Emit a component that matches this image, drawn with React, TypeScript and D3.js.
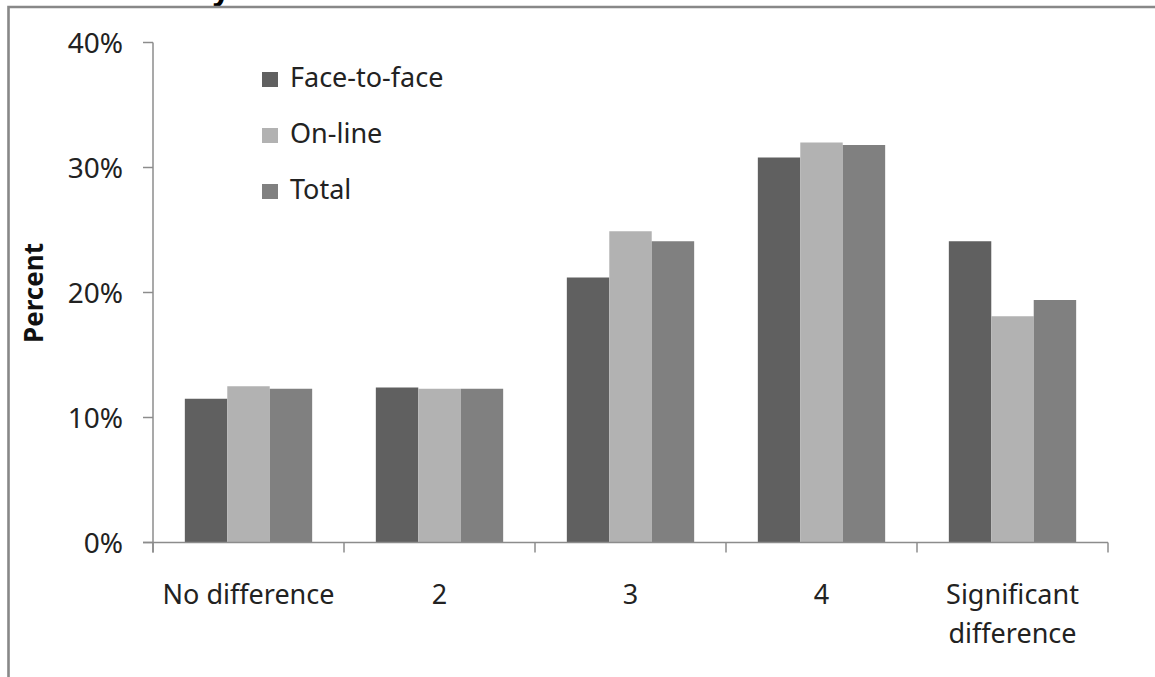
import React, { useEffect, useRef } from "react";
import * as d3 from "d3";

// 카테고리 / 시리즈 값
const categories = ["No difference", "2", "3", "4", "Significant difference"];
const seriesNames = ["Face-to-face", "On-line", "Total"];
const faceToFace = [11.5, 12.4, 21.2, 30.8, 24.1];
const onLine = [12.5, 12.3, 24.9, 32.0, 18.1];
const total = [12.3, 12.3, 24.1, 31.8, 19.4];
const yTicks = [0, 10, 20, 30, 40];
const seriesColors = ["#606060", "#b2b2b2", "#808080"];

const W = 1155;
const H = 677;
const FONT = "'Noto Sans', 'Open Sans', sans-serif";

export default function App() {
	const svgRef = useRef<SVGSVGElement>(null);

	useEffect(() => {
		const svg = d3.select(svgRef.current);
		svg.selectAll("*").remove();

		const left = 153;
		const right = 1108;
		const top = 42.5;
		const bottom = 542.5;
		const axisColor = "#8c8c8c";

		// 바깥 프레임 (잘린 상태)
		svg.append("rect").attr("x", 0).attr("y", 0).attr("width", W).attr("height", H).attr("fill", "white");
		svg
			.append("text")
			.attr("x", 230)
			.attr("y", 0)
			.attr("text-anchor", "end")
			.attr("font-family", FONT)
			.attr("font-weight", "bold")
			.attr("font-size", 30)
			.attr("fill", "#000")
			.text("Moderately");
		svg
			.append("path")
			.attr("d", `M8.5,${H + 10}V7H${W + 10}`)
			.attr("fill", "none")
			.attr("stroke", "#888")
			.attr("stroke-width", 2.6);

		const seriesData = [faceToFace, onLine, total];

		const x0 = d3.scaleBand<string>().domain(categories).range([left, right]).paddingInner(1 / 3).paddingOuter(1 / 6);
		const x1 = d3.scaleBand<number>().domain([0, 1, 2]).range([0, x0.bandwidth()]);
		const y = d3.scaleLinear().domain([0, 40]).range([bottom, top]);

		// 막대
		const groups = svg
			.selectAll(".grp")
			.data(categories)
			.join("g")
			.attr("class", "grp")
			.attr("transform", (d) => `translate(${x0(d)},0)`);

		groups
			.selectAll("rect")
			.data((_, i) => seriesData.map((s, k) => ({ k, v: s[i] })))
			.join("rect")
			.attr("x", (d) => x1(d.k)!)
			.attr("width", x1.bandwidth())
			.attr("y", (d) => y(d.v))
			.attr("height", (d) => bottom - y(d.v))
			.attr("fill", (d) => seriesColors[d.k]);

		// y축
		const yAxis = svg.append("g");
		yAxis
			.append("line")
			.attr("x1", left)
			.attr("x2", left)
			.attr("y1", top)
			.attr("y2", bottom + 10)
			.attr("stroke", axisColor)
			.attr("stroke-width", 1.5);
		yAxis
			.selectAll(".yt")
			.data(yTicks)
			.join("line")
			.attr("class", "yt")
			.attr("x1", left - 10)
			.attr("x2", left)
			.attr("y1", (d) => y(d))
			.attr("y2", (d) => y(d))
			.attr("stroke", axisColor)
			.attr("stroke-width", 1.5);
		yAxis
			.selectAll(".yl")
			.data(yTicks)
			.join("text")
			.attr("class", "yl")
			.attr("x", 123)
			.attr("y", (d) => y(d))
			.attr("dy", "0.36em")
			.attr("text-anchor", "end")
			.attr("font-family", FONT)
			.attr("font-size", 28)
			.attr("fill", "#222")
			.text((d) => `${d}%`);

		// x축
		const xAxis = svg.append("g");
		xAxis
			.append("line")
			.attr("x1", left - 10)
			.attr("x2", right)
			.attr("y1", bottom)
			.attr("y2", bottom)
			.attr("stroke", axisColor)
			.attr("stroke-width", 1.5);
		const tickXs = categories.map((c) => x0(c)! - x0.step() * (1 / 6)).concat([right]);
		xAxis
			.selectAll(".xt")
			.data(tickXs)
			.join("line")
			.attr("class", "xt")
			.attr("x1", (d) => d)
			.attr("x2", (d) => d)
			.attr("y1", bottom)
			.attr("y2", bottom + 10)
			.attr("stroke", axisColor)
			.attr("stroke-width", 1.5);

		const labels = xAxis
			.selectAll(".xl")
			.data(categories)
			.join("text")
			.attr("class", "xl")
			.attr("x", (d) => x0(d)! + x0.bandwidth() / 2)
			.attr("y", 604)
			.attr("text-anchor", "middle")
			.attr("font-family", FONT)
			.attr("font-size", 27)
			.attr("fill", "#222");
		labels.each(function (d) {
			const t = d3.select(this);
			const lines = d === "Significant difference" ? ["Significant", "difference"] : [d];
			lines.forEach((ln, i) => {
				t.append("tspan")
					.attr("x", x0(d)! + x0.bandwidth() / 2)
					.attr("dy", i === 0 ? 0 : 39)
					.text(ln);
			});
		});

		// y축 제목
		svg
			.append("text")
			.attr("transform", "translate(43,293) rotate(-90)")
			.attr("text-anchor", "middle")
			.attr("font-family", FONT)
			.attr("font-weight", "bold")
			.attr("font-size", 26)
			.attr("fill", "#111")
			.text("Percent");

		// 범례
		const legend = svg
			.selectAll(".lg")
			.data(seriesNames)
			.join("g")
			.attr("class", "lg")
			.attr("transform", (_, i) => `translate(262,${87 + i * 56})`);
		legend
			.append("rect")
			.attr("x", 0)
			.attr("y", -15)
			.attr("width", 16)
			.attr("height", 15)
			.attr("fill", (_, i) => seriesColors[i]);
		legend
			.append("text")
			.attr("x", 28)
			.attr("y", 0)
			.attr("font-family", FONT)
			.attr("font-size", 27)
			.attr("fill", "#222")
			.text((d) => d);
	}, []);

	return (
		<div style={{ position: "fixed", left: 0, top: 0 }}>
			<svg ref={svgRef} width={W} height={H} style={{ display: "block" }}></svg>
		</div>
	);
}
